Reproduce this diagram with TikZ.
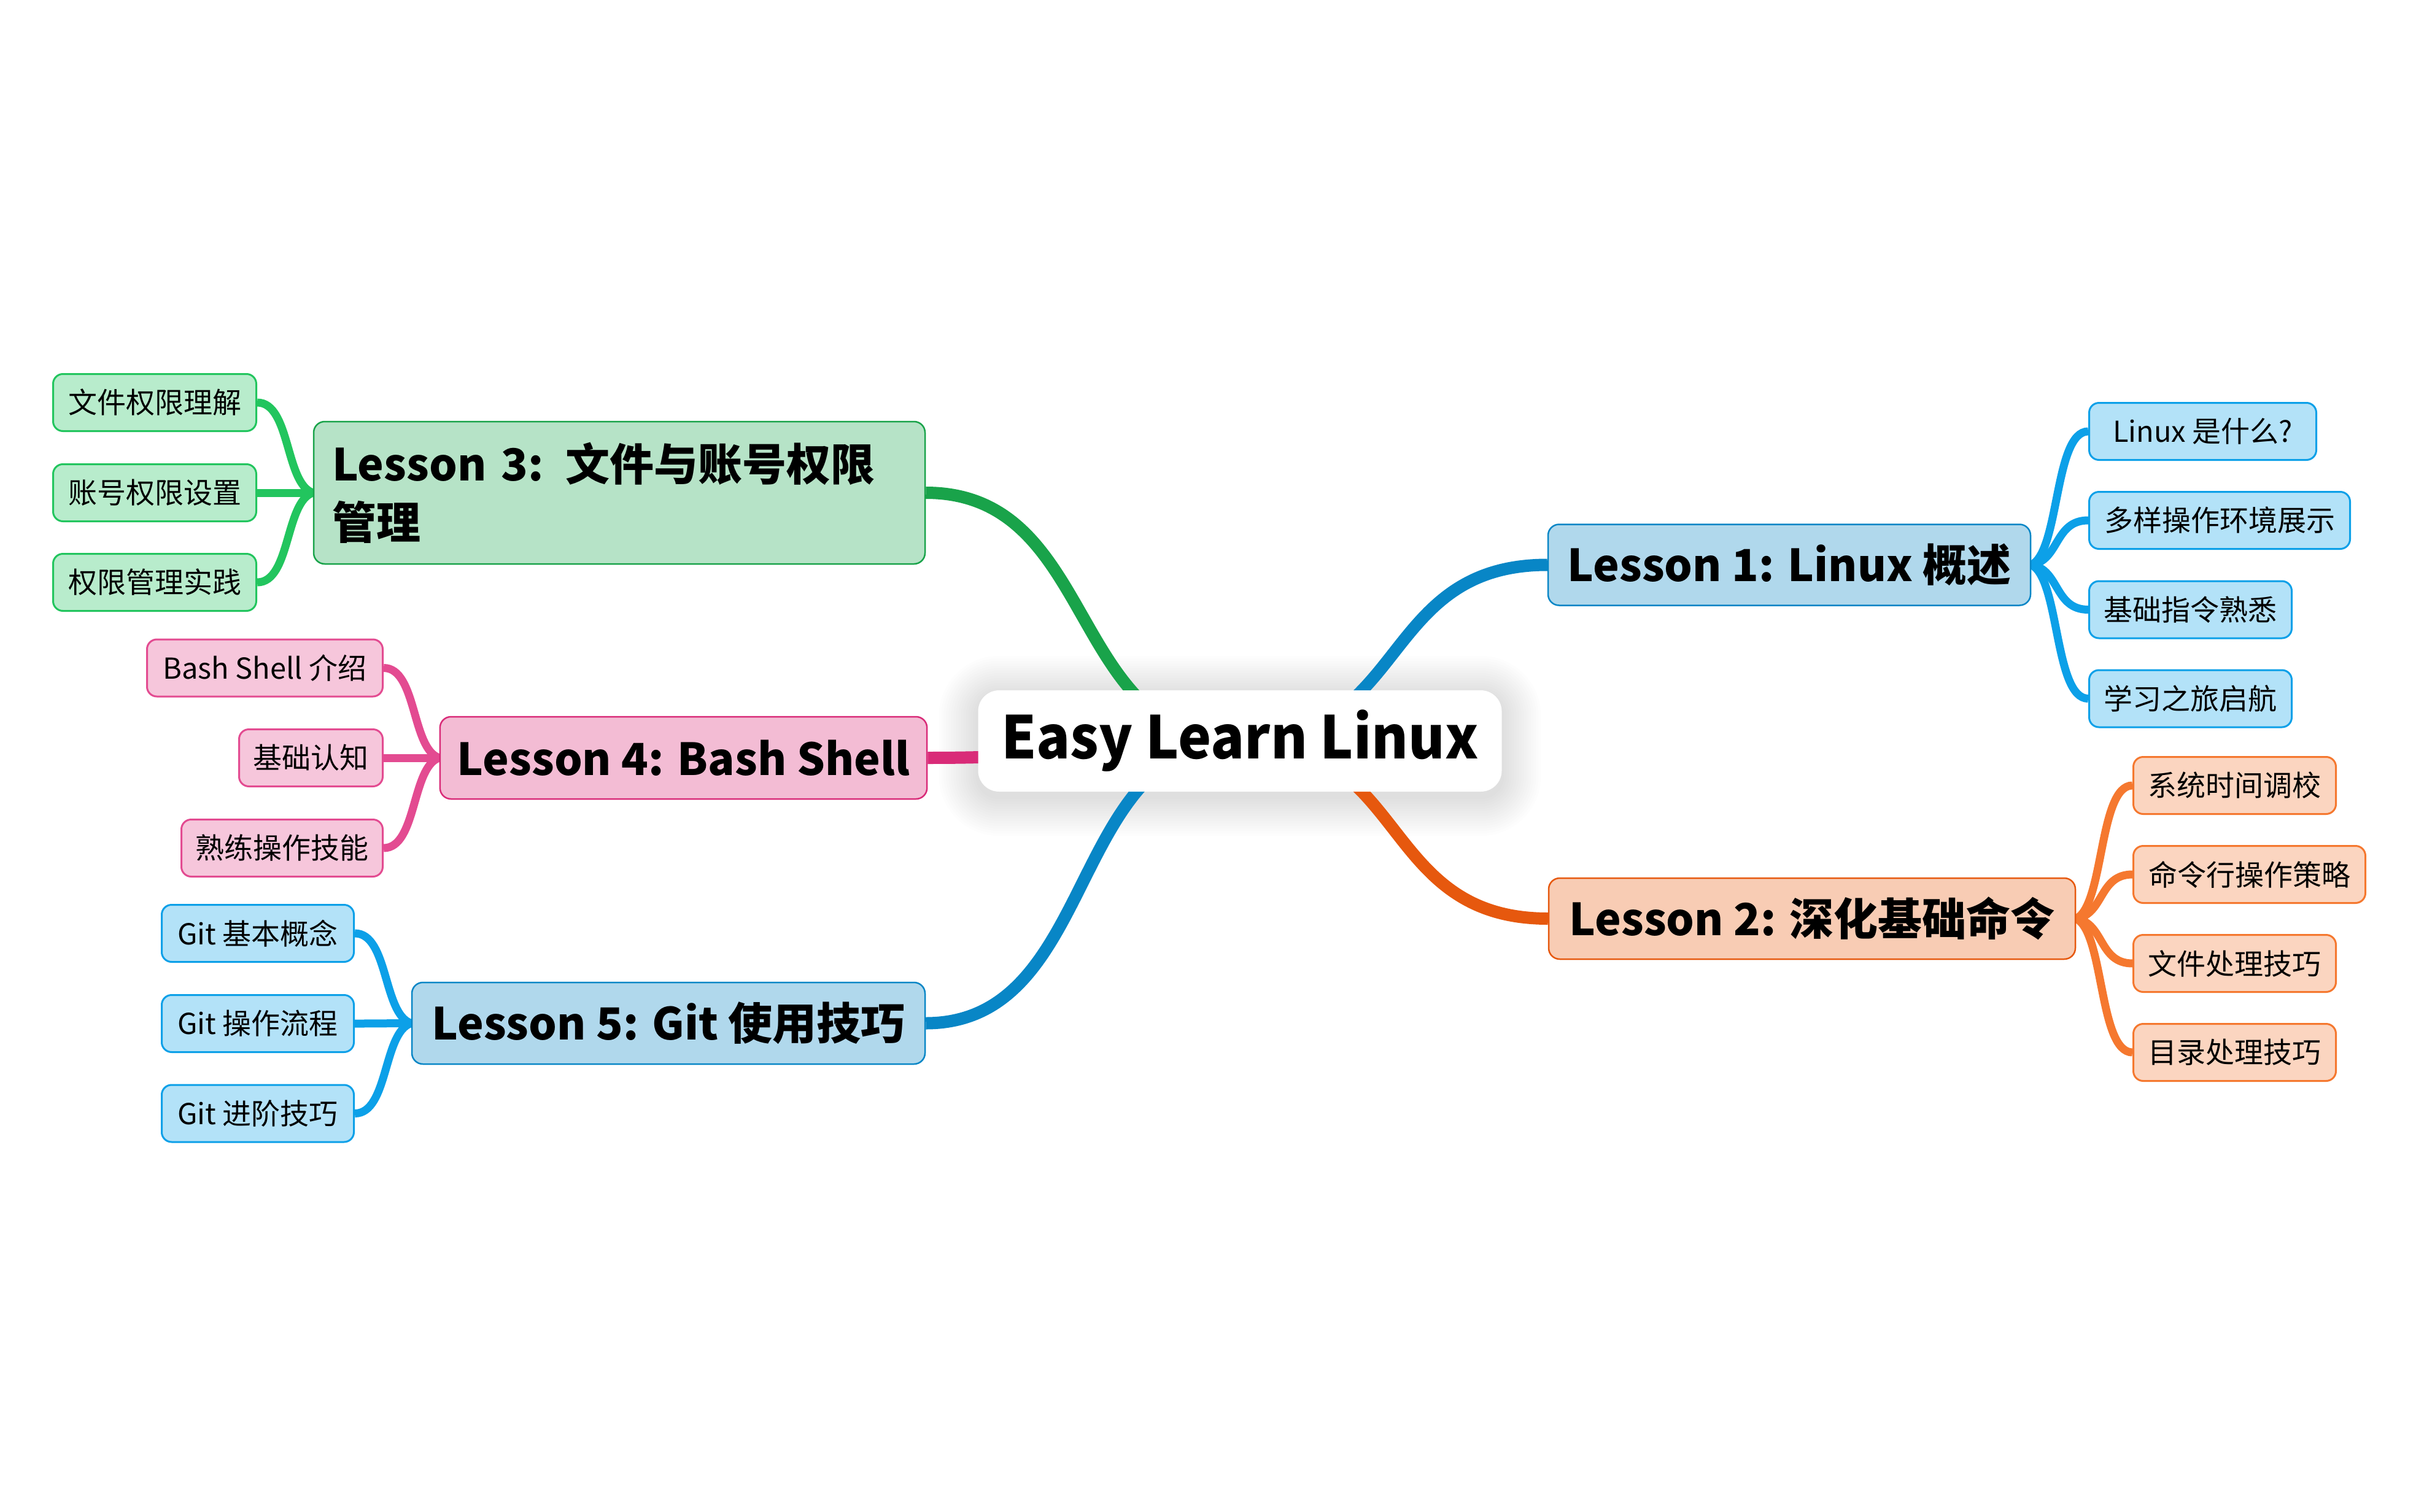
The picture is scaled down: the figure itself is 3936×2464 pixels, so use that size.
\documentclass[tikz,border=0pt]{standalone}
\usepackage{fontspec}
\setmainfont{Noto Sans CJK SC}
\usetikzlibrary{calc,backgrounds}

\definecolor{bmain}{HTML}{0886C6}
\definecolor{bfill}{HTML}{B0D8EC}
\definecolor{bleafline}{HTML}{0CA0E8}
\definecolor{bleaffill}{HTML}{B3E2F8}
\definecolor{omain}{HTML}{E6580E}
\definecolor{ofill}{HTML}{F8CCB4}
\definecolor{oleafline}{HTML}{F5782F}
\definecolor{oleaffill}{HTML}{FBD5C0}
\definecolor{gmain}{HTML}{19A34A}
\definecolor{gfill}{HTML}{B6E3C7}
\definecolor{gleafline}{HTML}{22C55E}
\definecolor{gleaffill}{HTML}{B8ECCC}
\definecolor{pmain}{HTML}{D92B78}
\definecolor{pfill}{HTML}{F3BCD4}
\definecolor{pleafline}{HTML}{E34B91}
\definecolor{pleaffill}{HTML}{F6C6DB}

\tikzset{
  central/.style={fill=white, rounded corners=34pt, minimum width=853pt, minimum height=165pt,
    inner sep=0pt, font=\fontsize{96}{110}\selectfont\bfseries, text=black},
  topic/.style={draw, line width=2.5pt, rounded corners=18pt, minimum height=132pt,
    inner xsep=28pt, inner ysep=0pt, font=\fontsize{72}{95}\selectfont\bfseries, text=black},
  leaf/.style={draw, line width=3pt, rounded corners=16pt, minimum height=93pt,
    inner xsep=18pt, inner ysep=0pt, font=\fontsize{47}{56}\selectfont, text=black},
  mainline/.style={line width=20pt, to path={let \p1=(\tikztostart), \p2=(\tikztotarget) in
    .. controls ({\x1+0.55*(\x2-\x1)},\y1) and ({\x1+0.45*(\x2-\x1)},\y2) .. (\tikztotarget)}},
  leafline/.style={line width=13pt, to path={let \p1=(\tikztostart), \p2=(\tikztotarget) in
    .. controls ({\x1+0.5*(\x2-\x1)},{\y1+0.1*(\y2-\y1)}) and ({\x1+0.4*(\x2-\x1)},\y2) .. (\tikztotarget)}}
}

\begin{document}
\begin{tikzpicture}[x=1pt,y=-1pt]
\useasboundingbox (0,0) rectangle (3936,2464);

% central node
\node[central] (c) at (2020,1207.5) {\scalebox{0.95}[1]{Easy Learn Linux}};

% topics
\node[topic, fill=bfill, draw=bmain, minimum width=786pt] (l1) at (2915,920.5) {Lesson 1: Linux 概述};
\node[topic, fill=ofill, draw=omain, minimum width=858pt] (l2) at (2952,1497) {Lesson 2: 深化基础命令};
\node[topic, fill=gfill, draw=gmain, minimum height=232pt, inner xsep=30pt, text width=936pt, align=left] (l3) at (1009,803) {Lesson 3: 文件与账号权限\\管理};
\node[topic, fill=pfill, draw=pmain, minimum width=789pt, minimum height=134pt] (l4) at (1113.5,1235) {Lesson 4: Bash Shell};
\node[topic, fill=bfill, draw=bmain, minimum width=836pt, minimum height=133pt] (l5) at (1089,1667.5) {Lesson 5: Git 使用技巧};

% leaves of lesson 1
\node[leaf, fill=bleaffill, draw=bleafline, anchor=west, minimum width=370pt] (l1a) at (3402,703) {Linux 是什么?};
\node[leaf, fill=bleaffill, draw=bleafline, anchor=west, minimum width=425pt] (l1b) at (3402,848) {多样操作环境展示};
\node[leaf, fill=bleaffill, draw=bleafline, anchor=west, minimum width=330pt] (l1c) at (3402,993.5) {基础指令熟悉};
\node[leaf, fill=bleaffill, draw=bleafline, anchor=west, minimum width=330pt] (l1d) at (3402,1138.5) {学习之旅启航};

% leaves of lesson 2
\node[leaf, fill=oleaffill, draw=oleafline, anchor=west, minimum width=330pt] (l2a) at (3474,1280) {系统时间调校};
\node[leaf, fill=oleaffill, draw=oleafline, anchor=west, minimum width=378pt] (l2b) at (3474,1425) {命令行操作策略};
\node[leaf, fill=oleaffill, draw=oleafline, anchor=west, minimum width=330pt] (l2c) at (3474,1570) {文件处理技巧};
\node[leaf, fill=oleaffill, draw=oleafline, anchor=west, minimum width=330pt] (l2d) at (3474,1715) {目录处理技巧};

% leaves of lesson 3
\node[leaf, fill=gleaffill, draw=gleafline, anchor=east, minimum width=331pt] (l3a) at (419,656) {文件权限理解};
\node[leaf, fill=gleaffill, draw=gleafline, anchor=east, minimum width=331pt] (l3b) at (419,803) {账号权限设置};
\node[leaf, fill=gleaffill, draw=gleafline, anchor=east, minimum width=331pt] (l3c) at (419,949) {权限管理实践};

% leaves of lesson 4
\node[leaf, fill=pleaffill, draw=pleafline, anchor=east, minimum width=384pt] (l4a) at (625,1088.5) {Bash Shell 介绍};
\node[leaf, fill=pleaffill, draw=pleafline, anchor=east, minimum width=234pt] (l4b) at (625,1235) {基础认知};
\node[leaf, fill=pleaffill, draw=pleafline, anchor=east, minimum width=328pt] (l4c) at (625,1382) {熟练操作技能};

% leaves of lesson 5
\node[leaf, fill=bleaffill, draw=bleafline, anchor=east, minimum width=313pt] (l5a) at (578,1521) {Git 基本概念};
\node[leaf, fill=bleaffill, draw=bleafline, anchor=east, minimum width=313pt] (l5b) at (578,1668) {Git 操作流程};
\node[leaf, fill=bleaffill, draw=bleafline, anchor=east, minimum width=313pt] (l5c) at (578,1814.5) {Git 进阶技巧};

\begin{pgfonlayer}{background}
  \fill[white] (0,0) rectangle (3936,2464);
  % soft shadow of the central node
  \foreach \i [evaluate=\i as \r using 34+4*\i] in {1,...,16} {
    \fill[black, opacity=0.006, rounded corners=\r pt]
      ($(c.north west)+(-4*\i pt, 4*\i pt - 8pt)$) rectangle ($(c.south east)+(4*\i pt, -4*\i pt - 8pt)$);
  }
  % main branches
  \draw[mainline, draw=bmain] (c.center) to (l1.west);
  \draw[mainline, draw=omain] (c.center) to (l2.west);
  \draw[mainline, draw=gmain] (c.center) to (l3.east);
  \draw[mainline, draw=pmain] (c.center) to (l4.east);
  \draw[mainline, draw=bmain] (c.center) to (l5.east);
  % leaf branches
  \foreach \t in {l1a,l1b,l1c,l1d} \draw[leafline, draw=bleafline] (l1.east) to (\t.west);
  \foreach \t in {l2a,l2b,l2c,l2d} \draw[leafline, draw=oleafline] (l2.east) to (\t.west);
  \foreach \t in {l3a,l3b,l3c} \draw[leafline, draw=gleafline] (l3.west) to (\t.east);
  \foreach \t in {l4a,l4b,l4c} \draw[leafline, draw=pleafline] (l4.west) to (\t.east);
  \foreach \t in {l5a,l5b,l5c} \draw[leafline, draw=bleafline] (l5.west) to (\t.east);
\end{pgfonlayer}
\end{tikzpicture}
\end{document}
